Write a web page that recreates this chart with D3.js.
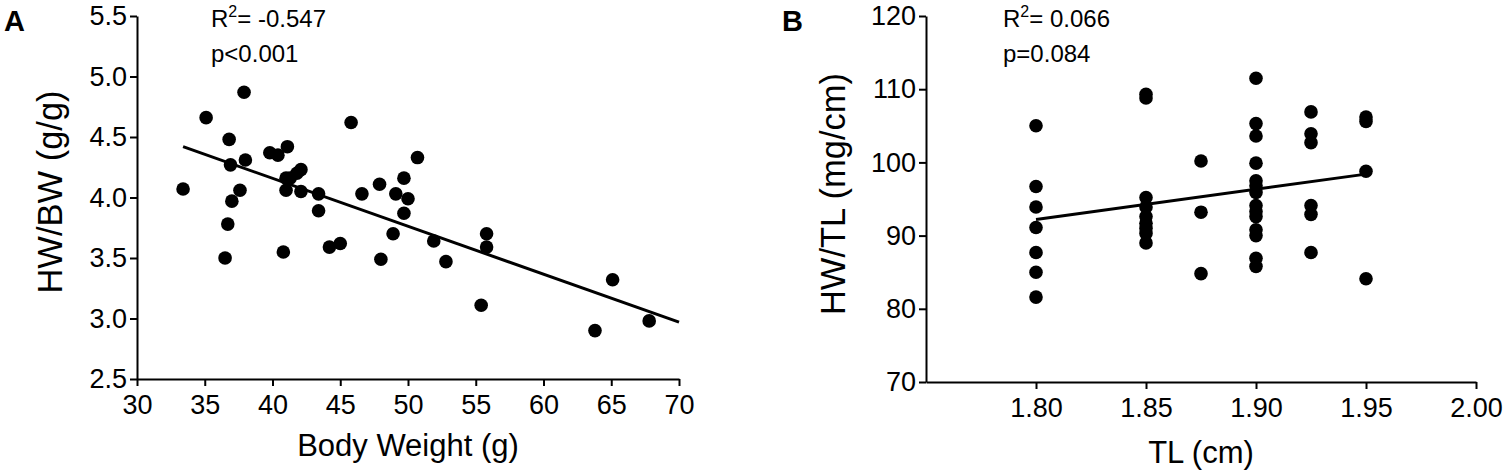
<!DOCTYPE html>
<html>
<head>
<meta charset="utf-8">
<script src="https://cdn.jsdelivr.net/npm/d3@7"></script>
<style>
  body { margin: 0; background: #fff; }
  svg { font-family: "Liberation Sans", Arial, sans-serif; }
  .axis path, .axis line { stroke: #000; stroke-width: 2; }
  .axis text { font-size: 27px; fill: #000; }
</style>
</head>
<body>
<svg id="chart" width="1508" height="476"></svg>
<script>
// Panel A: body weight (g) vs HW/BW (g/g)
var bwA = [33.4, 35.1, 37.9, 36.8, 38.0, 36.9, 37.6, 37.0, 36.7, 36.5,
           39.8, 40.4, 41.1, 41.0, 41.0, 41.3, 41.8, 42.1, 42.1, 40.8,
           43.4, 43.4, 44.2, 45.0, 45.8, 46.6, 47.9, 48.0, 48.9, 49.1,
           49.7, 49.7, 50.0, 50.7, 51.9, 52.8, 55.8, 55.8, 55.4, 63.8,
           65.1, 67.8];
var hwbwA = [4.07, 4.66, 4.87, 4.48, 4.31, 4.27, 4.06, 3.97, 3.78, 3.50,
             4.37, 4.35, 4.42, 4.16, 4.06, 4.16, 4.20, 4.23, 4.05, 3.55,
             4.03, 3.89, 3.59, 3.62, 4.62, 4.03, 4.11, 3.49, 3.70, 4.03,
             4.16, 3.87, 3.99, 4.33, 3.64, 3.47, 3.70, 3.59, 3.11, 2.90,
             3.32, 2.98];
var fitA = [[33.4, 4.42], [70, 2.97]];
var ticksAx = [30, 35, 40, 45, 50, 55, 60, 65, 70];
var ticksAy = [2.5, 3.0, 3.5, 4.0, 4.5, 5.0, 5.5];

// Panel B: tibia length (cm) vs HW/TL (mg/cm)
var tlB = [1.80, 1.80, 1.80, 1.80, 1.80, 1.80, 1.80,
           1.85, 1.85, 1.85, 1.85, 1.85, 1.85, 1.85, 1.85, 1.85,
           1.875, 1.875, 1.875,
           1.90, 1.90, 1.90, 1.90, 1.90, 1.90, 1.90, 1.90, 1.90, 1.90, 1.90, 1.90, 1.90, 1.90,
           1.925, 1.925, 1.925, 1.925, 1.925, 1.925,
           1.95, 1.95, 1.95, 1.95];
var hwtlB = [105.0, 96.7, 93.9, 91.1, 87.7, 85.0, 81.6,
             109.3, 108.8, 95.2, 93.9, 92.6, 91.7, 91.0, 90.3, 89.0,
             100.2, 93.2, 84.8,
             111.5, 105.3, 103.6, 99.9, 97.5, 96.8, 95.9, 94.1, 93.3, 92.6, 90.8, 90.0, 86.9, 85.8,
             106.9, 103.9, 102.7, 94.1, 92.9, 87.7,
             106.2, 105.6, 98.8, 84.1];
var fitB = [[1.80, 92.2], [1.95, 98.4]];
var ticksBx = [1.80, 1.85, 1.90, 1.95, 2.00];
var ticksBy = [70, 80, 90, 100, 110, 120];

var svg = d3.select("#chart");

function add_panel(opt){
    var g = svg.append("g");
    var xScale = d3.scaleLinear().domain(opt.xdom).range(opt.xr);
    var yScale = d3.scaleLinear().domain(opt.ydom).range(opt.yr);

    g.append("g")
        .attr("class", "axis")
        .attr("transform", "translate(0," + opt.yr[0] + ")")
        .call(d3.axisBottom(xScale).tickValues(opt.xticks).tickFormat(opt.xfmt)
              .tickSize(7).tickSizeOuter(0).tickPadding(9));

    g.append("g")
        .attr("class", "axis")
        .attr("transform", "translate(" + opt.xr[0] + ",0)")
        .call(d3.axisLeft(yScale).tickValues(opt.yticks).tickFormat(opt.yfmt)
              .tickSize(7).tickSizeOuter(0).tickPadding(3));

    g.append("line")
        .attr("x1", xScale(opt.fit[0][0])).attr("y1", yScale(opt.fit[0][1]))
        .attr("x2", xScale(opt.fit[1][0])).attr("y2", yScale(opt.fit[1][1]))
        .attr("stroke", "#000").attr("stroke-width", 3);

    g.selectAll("circle")
        .data(opt.xs)
        .enter().append("circle")
        .attr("cx", function(d){ return xScale(d); })
        .attr("cy", function(d, i){ return yScale(opt.ys[i]); })
        .attr("r", 6.8)
        .attr("fill", "#000");

    // labels
    g.append("text")
        .attr("x", opt.letterX).attr("y", 31)
        .attr("font-size", 29).attr("font-weight", "bold")
        .text(opt.letter);

    var r2 = g.append("text")
        .attr("x", opt.annX).attr("y", 27)
        .attr("font-size", 24);
    r2.append("tspan").text("R");
    r2.append("tspan").attr("font-size", 16).attr("dy", -10).text("2");
    r2.append("tspan").attr("dy", 10).text("= " + opt.r2);

    g.append("text")
        .attr("x", opt.annX).attr("y", 62)
        .attr("font-size", 24)
        .text(opt.p);

    g.append("text")
        .attr("x", (opt.xr[0] + opt.xr[1]) / 2).attr("y", opt.xtY)
        .attr("font-size", 31)
        .attr("text-anchor", "middle")
        .text(opt.xtitle);

    g.append("text")
        .attr("transform", "translate(" + opt.ytX + "," + opt.ytY + ") rotate(-90)")
        .attr("font-size", 34.5)
        .attr("text-anchor", "middle")
        .text(opt.ytitle);
}

add_panel({
    xs: bwA, ys: hwbwA, fit: fitA,
    xdom: [30, 70], xr: [137, 679],
    ydom: [2.5, 5.5], yr: [379, 16],
    xticks: ticksAx, yticks: ticksAy,
    xfmt: d3.format("d"), yfmt: d3.format(".1f"),
    letter: "A", letterX: 4,
    annX: 211, r2: "-0.547", p: "p<0.001",
    xtitle: "Body Weight (g)", xtY: 456,
    ytitle: "HW/BW (g/g)", ytX: 62, ytY: 192
});

add_panel({
    xs: tlB, ys: hwtlB, fit: fitB,
    xdom: [1.75, 2.00], xr: [926, 1476],
    ydom: [70, 120], yr: [382, 16],
    xticks: ticksBx, yticks: ticksBy,
    xfmt: d3.format(".2f"), yfmt: d3.format("d"),
    letter: "B", letterX: 782,
    annX: 1003, r2: "0.066", p: "p=0.084",
    xtitle: "TL (cm)", xtY: 463,
    ytitle: "HW/TL (mg/cm)", ytX: 845, ytY: 194
});
</script>
</body>
</html>
